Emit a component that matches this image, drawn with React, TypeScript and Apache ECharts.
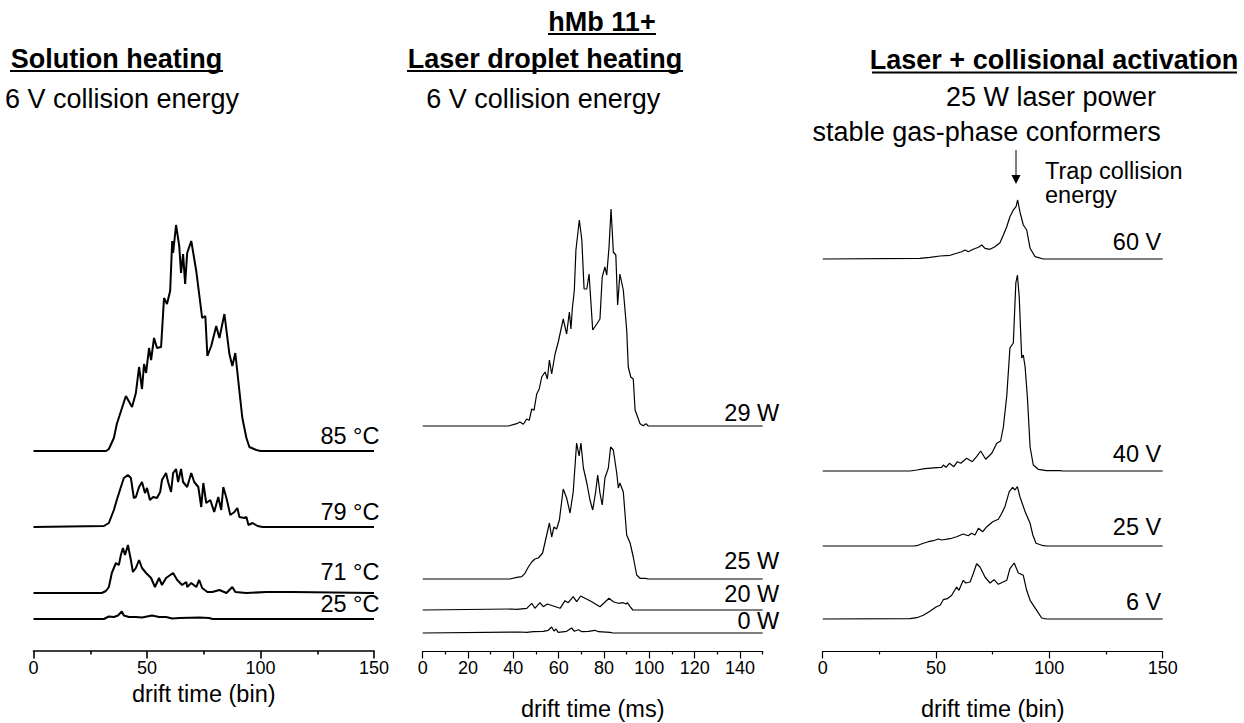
import React, { useEffect, useRef } from "react";
import * as echarts from "echarts";

// ---------- data (x = drift time, y = intensity in a.u.) ----------
// Panel 1: Solution heating (drift time, bin)
const solution85C = [[0,0],[32,0],[33.2,2],[35.4,13],[36.7,27],[40.7,55],[43.4,44],[45.1,58],[46.5,84],[47.8,62],[48.7,87],[49.6,78],[50.9,103],[51.8,91],[53.1,113],[54.4,103],[56.2,104],[57.5,153],[58.8,147],[60.2,160],[61.1,210],[61.5,198],[62.8,226],[64.2,205],[65.0,178],[65.9,197],[66.8,167],[67.7,198],[69.5,210],[71.7,180],[74.3,133],[75.7,135],[76.6,95],[78.3,105],[80.5,125],[81.9,113],[84.1,137],[86.3,97],[87.6,85],[88.9,98],[90.7,60],[92.0,33],[93.8,13],[95.1,4],[98.2,1],[100,0],[150,0]];
const solution79C = [[0,0],[31.0,1],[33.2,4],[35.4,17],[36.7,27],[38.5,40],[39.8,49],[41.6,52],[42.9,49],[44.2,29],[45.1,30],[46.5,40],[47.8,45],[49.1,34],[50.0,39],[51.3,27],[52.7,30],[54.4,29],[55.8,35],[56.6,47],[58.4,54],[59.3,45],[60.6,35],[61.5,54],[62.8,58],[63.7,45],[65.0,58],[65.9,45],[67.7,40],[69.5,54],[70.8,45],[72.6,40],[73.9,20],[74.8,44],[76.1,24],[77.9,27],[79.6,15],[81.4,30],[82.7,17],[83.6,40],[85.0,29],[86.7,12],[88.5,15],[89.8,19],[90.7,10],[92.9,9],[93.8,10],[94.7,2],[96.5,4],[98.7,1],[100.9,0],[150,0]];
const solution71C = [[0,0],[30.1,0],[31.9,2],[33.2,6],[34.5,20],[36.3,30],[37.6,28],[38.5,38],[39.4,45],[40.3,38],[41.6,48],[42.9,33],[43.8,21],[45.1,25],[46.5,33],[47.8,25],[49.6,20],[51.8,15],[53.5,6],[55.3,15],[56.6,8],[58.4,15],[61.5,20],[63.3,13],[65.5,8],[67.3,11],[67.7,6],[69.5,10],[71.7,6],[73.0,13],[74.3,5],[76.6,1],[78.8,1],[81.9,3],[85.0,0],[87.6,6],[88.9,1],[93.8,0],[102.7,1],[114.2,1],[150,0]];
const solution25C = [[0,0],[31.0,0],[33.2,2.5],[35.4,2],[37.2,3.5],[38.9,7.5],[39.8,3.5],[42.0,2],[45.1,2],[47.8,1.5],[52.2,3.5],[55.3,2],[58.4,2],[61.1,0.5],[64.2,1],[73.0,1.5],[77.4,1],[78.8,0],[150,0]];

// Panel 2: Laser droplet heating (drift time, ms)
const laser29W = [[0,0],[37.8,0],[41.5,2.3],[42.9,4],[44.4,1.7],[45.9,7],[47.0,5.7],[48.1,17],[49.1,15.7],[50.3,32],[51.4,37],[52.5,49],[54.0,54],[55.0,47],[55.9,66],[56.9,52],[58.4,72],[59.8,84],[62.0,107],[63.5,92],[64.7,114],[65.4,97],[66.0,117],[66.9,136],[67.6,176],[69.1,206],[70.2,186],[71.2,137],[72.4,137],[73.4,152],[75.0,96],[76.8,102],[78.2,107],[79.2,149],[80.4,159],[81.2,151],[82.2,179],[83.1,217],[84.1,174],[85.2,171],[86.0,121],[87.0,152],[88.5,136],[90.0,96],[90.7,59],[91.8,49],[92.9,47],[93.7,16],[95.9,2.3],[97.3,0.3],[98.5,2.3],[99.5,0],[150,0]];
const laser25W = [[0,0],[38.5,0],[41.5,1.7],[43.7,2.3],[45.1,5.7],[46.6,12],[48.1,17],[49.5,20],[51.0,21],[52.9,26],[54.4,41],[55.9,56],[56.9,42],[57.9,52],[59.1,50],[60.3,59],[62.0,90],[63.5,81],[65.0,66],[66.4,87],[67.9,136],[69.0,123],[69.8,136],[70.9,111],[72.4,96],[73.8,79],[75.0,69],[76.3,87],[77.2,104],[78.2,86],[79.2,74],[80.4,101],[81.9,111],[82.9,132],[84.1,129],[85.6,106],[86.3,91],[87.0,96],[88.5,87],[90.0,44],[91.5,36],[92.9,22],[94.4,4],[95.9,0.7],[98.1,0.7],[99.5,0],[150,0]];
const laser20W = [[0,0],[39.3,1],[41.5,0.7],[45.9,1.7],[48.1,6.7],[49.5,1.7],[51.7,7.3],[53.2,3.3],[55.0,6],[57.6,4],[60.6,1.7],[62.8,9.3],[64.2,7.3],[66.4,13.3],[67.9,8.3],[69.7,14],[71.6,11.7],[74.6,8.3],[78.2,3.3],[80.1,7.3],[82.2,11.7],[84.1,8.3],[86.3,6.7],[88.5,7.3],[89.7,6],[90.3,7.3],[91.5,3.3],[92.7,0],[150,0]];
const laser0W = [[0,0],[42.9,1],[45.9,0.7],[48.8,1.3],[53.2,1.7],[55.4,2.7],[56.9,6],[57.9,2],[58.8,4],[59.8,0.7],[63.5,1.7],[65.7,5],[66.9,1.7],[68.7,3.3],[70.2,1.3],[73.1,1.7],[76.0,2.7],[77.5,1.3],[82.6,0.7],[84,0],[150,0]];

// Panel 3: Laser + collisional activation (drift time, bin)
const trap60V = [[0,0],[42.9,0.7],[47.3,1.7],[51.8,3],[56.2,3.7],[59.1,5.7],[61.3,7.3],[62.8,9],[64.2,7.3],[66.4,9.7],[68.7,11.7],[70.2,14],[71.6,10.7],[73.8,9.7],[76.0,12.3],[78.2,16.3],[79.7,24],[81.2,32.3],[82.6,42.3],[84.1,49],[85.3,52.3],[86.0,59],[87.0,47.3],[88.5,34],[90.0,29],[91.5,10.7],[93.7,2.3],[97.3,0],[150,0]];
const trap40V = [[0,0],[38.5,0],[41.5,1],[45.1,2.3],[50.3,3.3],[52.5,3.7],[53.2,6],[54.4,3.7],[55.9,7.7],[57.9,4.3],[59.4,9.3],[60.9,7.7],[63.5,12.7],[66.0,9.3],[67.9,14.3],[69.7,20],[71.9,11.7],[74.6,17.7],[76.8,27.7],[78.5,30],[79.7,44],[81.2,75],[82.6,123],[84.1,128],[85.2,188],[85.9,196],[86.7,174],[87.8,113],[88.5,116],[89.3,104],[90.3,74],[91.5,24],[92.9,6],[95.1,1.7],[98.8,0.3],[104.7,0.3],[106,0],[150,0]];
const trap25V = [[0,0],[40,0],[41.5,0.3],[44.4,2.7],[46.6,4.3],[48.8,5.3],[51.0,7],[52.5,6],[56.2,7.3],[59.1,9.3],[62.0,12],[64.2,10.3],[65.7,12.7],[67.2,11],[68.7,17.7],[70.6,14.3],[72.4,19.3],[75.0,24.3],[77.5,26.7],[79.0,32.7],[80.4,39.3],[82.3,54.3],[83.8,58.7],[84.8,56],[85.9,59.3],[87.0,49.3],[89.3,34.3],[91.5,22.7],[92.7,11],[94.1,2.7],[97.3,0.3],[99,0],[150,0]];
const trap6V = [[0,0],[38.5,0.3],[41.5,1.3],[44.4,3.7],[47.3,7.7],[50.0,12],[51.8,13.7],[53.2,19.3],[55.0,20.3],[56.9,23.7],[59.1,32],[60.1,28.7],[62.0,38.7],[63.1,36],[65.0,37],[66.4,45.3],[67.9,55.3],[69.4,52],[71.6,42],[73.8,36],[75.6,39.3],[77.5,34.7],[81.2,38.7],[82.6,50.3],[84.5,56],[86.3,46],[88.5,43.7],[90.0,28.7],[91.5,18.7],[94.4,8.7],[96.6,1],[98.8,0],[150,0]];

// trace names and vertical stacking offsets (a.u.)
const panel1Names = ["85 °C", "79 °C", "71 °C", "25 °C"];
const panel2Names = ["29 W", "25 W", "20 W", "0 W"];
const panel3Names = ["60 V", "40 V", "25 V", "6 V"];
const panel1Offsets = [200, 124, 58, 32];
const panel2Offsets = [225, 72, 41, 18];
const panel3Offsets = [392, 180, 105, 32];

// tick values
const binMajorTicks = [0, 50, 100, 150];
const binMinorTicks = [25, 75, 125];
const msMajorTicks = [0, 20, 40, 60, 80, 100, 120, 140];
const msMinorTicks = [10, 30, 50, 70, 90, 110, 130, 150];

// ---------- layout / style ----------
const FONT = "'Liberation Sans', Arial, Helvetica, sans-serif";
const gridTop = 151;
const gridHeight = 500;
const grids = [
  { left: 33.5, width: 340.5 },
  { left: 422.7, width: 340 },
  { left: 822.7, width: 340 },
];
const panelLineWidth = [2, 1.2, 1.2];
const panelAxisWidth = [1.6, 1.2, 1.2];
const labelDx = [6, 17, -1];
const panel1Lift = [6, 6.7, 12.3, 6];
const panel2Lift = [4, 9.7, 7.3, 3.3];
const panel3Lift = [8, 8.3, 10, 8];

export default function App() {
  const ref = useRef<HTMLDivElement>(null);

  useEffect(() => {
    if (!ref.current) return;
    const chart = echarts.init(ref.current, undefined, { renderer: "svg" });

    const panels = [
      { traces: [solution85C, solution79C, solution71C, solution25C], names: panel1Names, offsets: panel1Offsets, lifts: panel1Lift },
      { traces: [laser29W, laser25W, laser20W, laser0W], names: panel2Names, offsets: panel2Offsets, lifts: panel2Lift },
      { traces: [trap60V, trap40V, trap25V, trap6V], names: panel3Names, offsets: panel3Offsets, lifts: panel3Lift },
    ];

    const series: any[] = [];
    panels.forEach((p, pi) => {
      p.traces.forEach((tr, ti) => {
        const off = p.offsets[ti];
        series.push({
          type: "line",
          name: p.names[ti],
          xAxisIndex: pi * 2,
          yAxisIndex: pi,
          data: tr.map((d) => [d[0], d[1] + off]),
          showSymbol: false,
          symbol: "none",
          silent: true,
          lineStyle: { color: "#000", width: panelLineWidth[pi] },
          itemStyle: { color: "#000" },
          markPoint: {
            silent: true,
            symbol: "rect",
            symbolSize: 1,
            itemStyle: { color: "rgba(0,0,0,0)" },
            data: [{ coord: [150, off], value: 0 }],
            label: {
              show: true,
              formatter: p.names[ti],
              position: [0, 0],
              align: "right",
              verticalAlign: "middle",
              offset: [labelDx[pi], -(p.lifts[ti] + 8.2)],
              color: "#000",
              fontSize: 23.5,
              fontFamily: FONT,
            },
          },
        });
      });
    });

    const xAxes: any[] = [];
    const majors = [binMajorTicks, msMajorTicks, binMajorTicks];
    const minors = [binMinorTicks, msMinorTicks, binMinorTicks];
    const intervals = [50, 20, 50];
    grids.forEach((_, gi) => {
      xAxes.push({
        type: "value",
        gridIndex: gi,
        min: 0,
        max: 150,
        interval: intervals[gi],
        position: "bottom",
        axisLine: { show: true, lineStyle: { color: "#000", width: panelAxisWidth[gi] } },
        axisTick: { show: true, length: 7.5, lineStyle: { color: "#000", width: panelAxisWidth[gi] }, customValues: majors[gi] },
        axisLabel: { show: true, color: "#000", fontSize: 18, fontFamily: FONT, margin: 8, customValues: majors[gi] },
        splitLine: { show: false },
      });
      xAxes.push({
        type: "value",
        gridIndex: gi,
        min: 0,
        max: 150,
        interval: intervals[gi] / 2,
        position: "bottom",
        axisLine: { show: false },
        axisTick: { show: true, length: 3.5, lineStyle: { color: "#000", width: panelAxisWidth[gi] }, customValues: minors[gi] },
        axisLabel: { show: false },
        splitLine: { show: false },
      });
    });

    const txt = (text: string, x: number, y: number, size: number, opts: any = {}) => ({
      type: "text",
      x,
      y,
      silent: true,
      style: {
        text,
        fill: "#000",
        fontSize: size,
        fontFamily: FONT,
        fontWeight: opts.bold ? "bold" : "normal",
        align: opts.align || "center",
        verticalAlign: "middle",
        textAlign: opts.align || "center",
        textVerticalAlign: "middle",
      },
    });
    const uline = (x1: number, x2: number, y: number) => ({
      type: "line",
      silent: true,
      shape: { x1, y1: y, x2, y2: y },
      style: { stroke: "#000", lineWidth: 2 },
    });

    const graphic = [
      txt("hMb 11+", 602, 22.4, 27, { bold: true }),
      uline(548, 656, 34),
      txt("Solution heating", 116.5, 59, 27, { bold: true }),
      uline(10, 223, 71),
      txt("Laser droplet heating", 545, 59, 27, { bold: true }),
      uline(407, 683, 71),
      txt("Laser + collisional activation", 1054, 60, 27, { bold: true }),
      uline(872, 1237, 72.5),
      txt("6 V collision energy", 122, 98.9, 27),
      txt("6 V collision energy", 543.3, 98.9, 27),
      txt("25 W laser power", 1051, 97.3, 27),
      txt("stable gas-phase conformers", 986.7, 132.3, 27),
      txt("Trap collision", 1045, 171.2, 23.5, { align: "left" }),
      txt("energy", 1045, 195.2, 23.5, { align: "left" }),
      {
        type: "line",
        silent: true,
        shape: { x1: 1016, y1: 150, x2: 1016, y2: 177 },
        style: { stroke: "#000", lineWidth: 1 },
      },
      {
        type: "polygon",
        silent: true,
        shape: { points: [[1011.5, 175], [1020.5, 175], [1016, 184]] },
        style: { fill: "#000" },
      },
      txt("drift time (bin)", 203.7, 694, 23.5),
      txt("drift time (ms)", 592.7, 709, 23.5),
      txt("drift time (bin)", 992.7, 709, 23.5),
    ];

    chart.setOption({
      animation: false,
      backgroundColor: "#fff",
      grid: grids.map((g) => ({ left: g.left, width: g.width, top: gridTop, height: gridHeight, containLabel: false })),
      xAxis: xAxes,
      yAxis: grids.map((_, gi) => ({ type: "value", gridIndex: gi, min: 0, max: gridHeight, show: false })),
      series,
      graphic,
    });

    return () => chart.dispose();
  }, []);

  return (
    <div
      ref={ref}
      style={{ position: "fixed", left: 0, top: 0, width: 1244, height: 723, background: "#fff" }}
    />
  );
}
